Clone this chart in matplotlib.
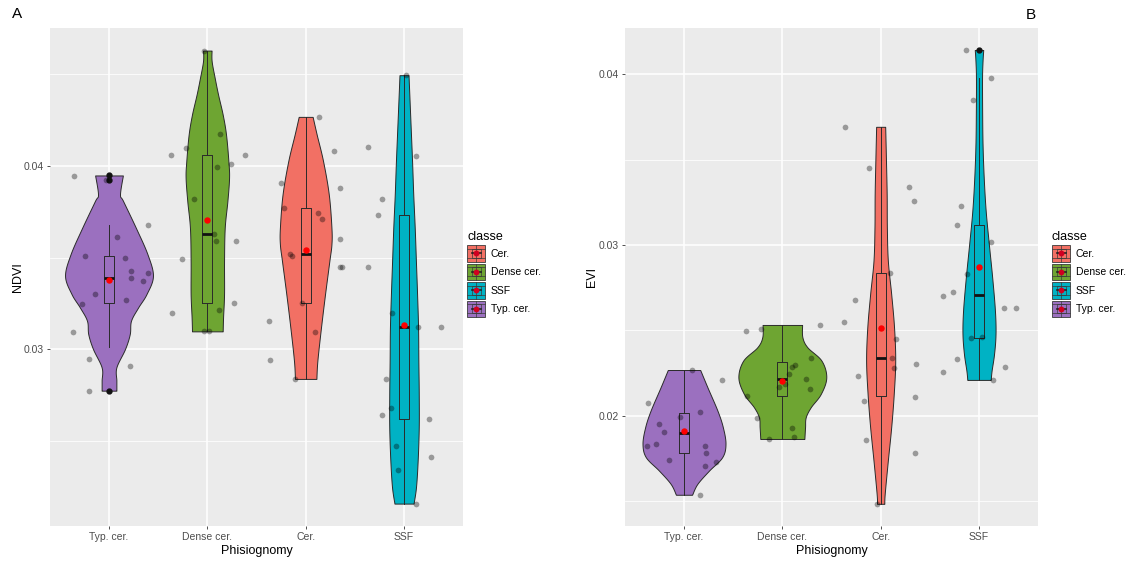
import numpy as np
import matplotlib
matplotlib.use("Agg")
import matplotlib.pyplot as plt
from matplotlib.patches import Rectangle, Patch
from matplotlib.lines import Line2D
from matplotlib.legend_handler import HandlerBase

plt.rcParams['font.family'] = ['Liberation Sans', 'DejaVu Sans']

# ---------------- data ----------------
categories = ["Typ. cer.", "Dense cer.", "Cer.", "SSF"]
legend_order = ["Cer.", "Dense cer.", "SSF", "Typ. cer."]
colors = {"Cer.": "#F27064", "Dense cer.": "#6EA532", "SSF": "#00B2C4", "Typ. cer.": "#9B70BF"}

# --- NDVI: violin outline (value, half-width in category units) ---
ndvi_violin_typ_v = [0.03947, 0.03844, 0.03808, 0.03663, 0.03518, 0.03400, 0.03301, 0.03228, 0.03156, 0.03083, 0.03002, 0.02902, 0.02830, 0.02775]
ndvi_violin_typ_w = [0.141, 0.112, 0.143, 0.272, 0.391, 0.447, 0.381, 0.296, 0.224, 0.211, 0.163, 0.075, 0.075, 0.075]
ndvi_violin_dense_v = [0.04627, 0.04569, 0.04478, 0.04388, 0.04279, 0.04170, 0.04025, 0.03935, 0.03808, 0.03663, 0.03482, 0.03301, 0.03174, 0.03098]
ndvi_violin_dense_w = [0.043, 0.044, 0.075, 0.109, 0.156, 0.190, 0.214, 0.221, 0.204, 0.177, 0.170, 0.170, 0.160, 0.156]
ndvi_violin_cer_v = [0.04266, 0.04170, 0.04025, 0.03844, 0.03663, 0.03572, 0.03482, 0.03301, 0.03120, 0.02938, 0.02839]
ndvi_violin_cer_w = [0.071, 0.112, 0.177, 0.235, 0.262, 0.262, 0.241, 0.197, 0.156, 0.119, 0.109]
ndvi_violin_ssf_v = [0.04493, 0.04388, 0.04207, 0.04025, 0.03844, 0.03663, 0.03482, 0.03301, 0.03120, 0.02938, 0.02757, 0.02576, 0.02395, 0.02250, 0.02160]
ndvi_violin_ssf_w = [0.046, 0.054, 0.068, 0.082, 0.094, 0.109, 0.121, 0.133, 0.143, 0.146, 0.150, 0.150, 0.139, 0.122, 0.097]

# --- NDVI box statistics: whislo, q1, median, q3, whishi, mean ---
ndvi_box_typ = [0.03011, 0.03250, 0.03388, 0.03507, 0.03676, 0.03379]
ndvi_box_dense = [0.03098, 0.03254, 0.03630, 0.04058, 0.04627, 0.03705]
ndvi_box_cer = [0.02839, 0.03250, 0.03518, 0.03768, 0.04266, 0.03540]
ndvi_box_ssf = [0.02160, 0.02621, 0.03123, 0.03730, 0.04493, 0.03134]
ndvi_outliers_typ = [0.03947, 0.03922, 0.02775]

# --- NDVI jittered observations (value, horizontal jitter) ---
ndvi_pts_typ_y = [0.03944, 0.03922, 0.03614, 0.03678, 0.03507, 0.03496, 0.03426, 0.03415, 0.03386, 0.03370, 0.03299, 0.03246, 0.03268, 0.03092, 0.02947, 0.02907, 0.02775]
ndvi_pts_typ_dx = [-0.357, -0.031, 0.082, 0.395, -0.245, 0.163, 0.224, 0.395, 0.221, 0.342, -0.146, -0.276, 0.170, -0.371, -0.204, 0.214, -0.201]
ndvi_pts_dense_y = [0.04627, 0.04174, 0.04098, 0.04060, 0.04058, 0.04011, 0.03993, 0.03817, 0.03630, 0.03589, 0.03589, 0.03491, 0.03254, 0.03212, 0.03197, 0.03098, 0.03098]
ndvi_pts_dense_dx = [-0.031, 0.129, -0.221, -0.371, 0.381, 0.241, 0.095, -0.139, 0.071, 0.085, 0.293, -0.258, 0.276, 0.116, -0.357, -0.031, 0.017]
ndvi_pts_cer_y = [0.04266, 0.04080, 0.03904, 0.03880, 0.03768, 0.03743, 0.03708, 0.03603, 0.03518, 0.03511, 0.03451, 0.03451, 0.03250, 0.03152, 0.03092, 0.02944, 0.02839]
ndvi_pts_cer_dx = [0.136, 0.289, -0.252, 0.350, -0.221, 0.122, 0.163, 0.350, -0.163, -0.143, 0.350, 0.367, -0.034, -0.371, 0.095, -0.364, -0.112]
ndvi_pts_ssf_y = [0.04493, 0.04103, 0.04053, 0.03817, 0.03730, 0.03451, 0.03196, 0.03123, 0.03123, 0.02839, 0.02681, 0.02640, 0.02621, 0.02475, 0.02415, 0.02341, 0.02160]
ndvi_pts_ssf_dx = [0.024, -0.371, 0.122, -0.221, -0.269, -0.371, -0.119, 0.143, 0.378, -0.187, -0.133, -0.221, 0.255, -0.078, 0.272, -0.058, 0.122]

# --- EVI: violin outline ---
evi_violin_typ_v = [0.02267, 0.02166, 0.02029, 0.01932, 0.01834, 0.01756, 0.01678, 0.01600, 0.01536]
evi_violin_typ_w = [0.165, 0.238, 0.340, 0.395, 0.422, 0.388, 0.255, 0.136, 0.082]
evi_violin_dense_v = [0.02531, 0.02459, 0.02400, 0.02322, 0.02224, 0.02127, 0.02049, 0.01990, 0.01932, 0.01863]
evi_violin_dense_w = [0.201, 0.204, 0.255, 0.398, 0.447, 0.391, 0.289, 0.238, 0.231, 0.224]
evi_violin_cer_v = [0.03692, 0.03493, 0.03298, 0.03102, 0.02907, 0.02712, 0.02517, 0.02322, 0.02127, 0.01932, 0.01737, 0.01541, 0.01483]
evi_violin_cer_w = [0.046, 0.054, 0.061, 0.063, 0.073, 0.107, 0.136, 0.148, 0.133, 0.107, 0.073, 0.041, 0.037]
evi_violin_ssf_v = [0.04142, 0.04078, 0.03980, 0.03785, 0.03590, 0.03395, 0.03200, 0.03005, 0.02810, 0.02615, 0.02478, 0.02361, 0.02263, 0.02209]
evi_violin_ssf_w = [0.043, 0.036, 0.031, 0.032, 0.036, 0.048, 0.068, 0.100, 0.134, 0.162, 0.168, 0.153, 0.128, 0.119]

# --- EVI box statistics ---
evi_box_typ = [0.01536, 0.01780, 0.01899, 0.02016, 0.02267, 0.01912]
evi_box_dense = [0.01863, 0.02113, 0.02215, 0.02312, 0.02531, 0.02205]
evi_box_cer = [0.01483, 0.02113, 0.02336, 0.02833, 0.03692, 0.02511]
evi_box_ssf = [0.02209, 0.02453, 0.02706, 0.03116, 0.03977, 0.02872]
evi_outliers_ssf = [0.04142]

# --- EVI jittered observations ---
evi_pts_typ_y = [0.02267, 0.02211, 0.02072, 0.02020, 0.01990, 0.01951, 0.01902, 0.01834, 0.01819, 0.01824, 0.01780, 0.01737, 0.01727, 0.01705, 0.01536]
evi_pts_typ_dx = [0.078, 0.391, -0.364, 0.160, -0.041, -0.252, -0.204, -0.283, -0.374, 0.214, 0.221, -0.153, 0.330, 0.214, 0.167]
evi_pts_dense_y = [0.02494, 0.02505, 0.02531, 0.02336, 0.02297, 0.02283, 0.02244, 0.02215, 0.02185, 0.02166, 0.02156, 0.02113, 0.01986, 0.01928, 0.01863, 0.01877]
evi_pts_dense_dx = [-0.367, -0.214, 0.381, 0.296, 0.133, 0.099, 0.068, 0.245, 0.024, -0.034, 0.279, -0.357, -0.255, 0.099, -0.136, 0.116]
evi_pts_cer_y = [0.03692, 0.03450, 0.03340, 0.03255, 0.02833, 0.02679, 0.02550, 0.02451, 0.02336, 0.02277, 0.02302, 0.02234, 0.02084, 0.02111, 0.01859, 0.01783, 0.01483]
evi_pts_cer_dx = [-0.367, -0.119, 0.286, 0.340, 0.092, -0.259, -0.377, 0.160, 0.119, 0.136, 0.364, -0.231, -0.173, 0.347, -0.146, 0.347, -0.041]
evi_pts_ssf_y = [0.04142, 0.03977, 0.03850, 0.03229, 0.03116, 0.03015, 0.02829, 0.02722, 0.02702, 0.02628, 0.02632, 0.02453, 0.02462, 0.02332, 0.02283, 0.02254, 0.02209]
evi_pts_ssf_dx = [-0.129, 0.119, -0.058, -0.184, -0.221, 0.122, -0.126, -0.269, -0.371, 0.252, 0.374, -0.082, 0.034, -0.221, 0.269, -0.371, 0.146]

panels = {
    "NDVI": {
        "violin": [(ndvi_violin_typ_v, ndvi_violin_typ_w), (ndvi_violin_dense_v, ndvi_violin_dense_w),
                   (ndvi_violin_cer_v, ndvi_violin_cer_w), (ndvi_violin_ssf_v, ndvi_violin_ssf_w)],
        "box": [ndvi_box_typ, ndvi_box_dense, ndvi_box_cer, ndvi_box_ssf],
        "outliers": [ndvi_outliers_typ, [], [], []],
        "pts": [(ndvi_pts_typ_y, ndvi_pts_typ_dx), (ndvi_pts_dense_y, ndvi_pts_dense_dx),
                (ndvi_pts_cer_y, ndvi_pts_cer_dx), (ndvi_pts_ssf_y, ndvi_pts_ssf_dx)],
        "ylim": (0.02038, 0.04750), "major": [0.03, 0.04], "minor": [0.025, 0.035, 0.045],
    },
    "EVI": {
        "violin": [(evi_violin_typ_v, evi_violin_typ_w), (evi_violin_dense_v, evi_violin_dense_w),
                   (evi_violin_cer_v, evi_violin_cer_w), (evi_violin_ssf_v, evi_violin_ssf_w)],
        "box": [evi_box_typ, evi_box_dense, evi_box_cer, evi_box_ssf],
        "outliers": [[], [], [], evi_outliers_ssf],
        "pts": [(evi_pts_typ_y, evi_pts_typ_dx), (evi_pts_dense_y, evi_pts_dense_dx),
                (evi_pts_cer_y, evi_pts_cer_dx), (evi_pts_ssf_y, evi_pts_ssf_dx)],
        "ylim": (0.01353, 0.04271), "major": [0.02, 0.03, 0.04], "minor": [0.015, 0.025, 0.035],
    },
}


def smooth_profile(v, w, n=14):
    pts = np.column_stack([v, w]).astype(float)
    P = np.vstack([pts[0], pts, pts[-1]])
    out = []
    t = np.linspace(0, 1, n, endpoint=False)[:, None]
    for i in range(1, len(P) - 2):
        p0, p1, p2, p3 = P[i - 1], P[i], P[i + 1], P[i + 2]
        seg = 0.5 * ((2 * p1) + (-p0 + p2) * t + (2 * p0 - 5 * p1 + 4 * p2 - p3) * t ** 2
                     + (-p0 + 3 * p1 - 3 * p2 + p3) * t ** 3)
        out.append(seg)
    out.append(pts[-1:])
    s = np.vstack(out)
    return s[:, 0], np.clip(s[:, 1], 0, None)


class ViolinKey(HandlerBase):
    def create_artists(self, legend, orig_handle, xdescent, ydescent, width, height, fontsize, trans):
        x0, y0 = -xdescent, -ydescent
        col = orig_handle.get_facecolor()
        arts = [Rectangle((x0, y0), width, height, facecolor=col, edgecolor="#3a3a3a", lw=0.6, transform=trans)]
        for fy in (0.22, 0.78):
            arts.append(Line2D([x0, x0 + width], [y0 + height * fy] * 2, color="#3a3a3a", lw=0.5, transform=trans))
        bw = width * 0.5
        arts.append(Rectangle((x0 + (width - bw) / 2, y0 + height * 0.22), bw, height * 0.56,
                              facecolor="none", edgecolor="#3a3a3a", lw=0.5, transform=trans))
        arts.append(Line2D([x0 + width / 2] * 2, [y0, y0 + height], color="#3a3a3a", lw=0.5, transform=trans))
        arts.append(Line2D([x0 + width * 0.25, x0 + width * 0.75], [y0 + height / 2] * 2, color="#222222", lw=1.2, transform=trans))
        arts.append(Line2D([x0 + width / 2], [y0 + height / 2], marker="o", ms=3.2, color="#D00020", lw=0, transform=trans))
        return arts


fig = plt.figure(figsize=(11.36, 5.61), dpi=100)
fig.patch.set_facecolor("white")
ax_pos = {"NDVI": [50 / 1136, 1 - 526 / 561, 413 / 1136, 498 / 561],
          "EVI": [625 / 1136, 1 - 526 / 561, 413 / 1136, 498 / 561]}
ylabel_x = {"NDVI": 18 / 1136, "EVI": 592 / 1136}
legend_x = {"NDVI": 467 / 1136, "EVI": 1052 / 1136}

positions = np.arange(len(categories))
for name, d in panels.items():
    ax = fig.add_axes(ax_pos[name])
    ax.set_facecolor("#EBEBEB")
    for s in ax.spines.values():
        s.set_visible(False)
    ax.set_xlim(-0.6, 3.6)
    ax.set_ylim(*d["ylim"])
    ax.set_xticks(positions)
    ax.set_xticklabels(categories)
    ax.set_yticks(d["major"])
    ax.set_yticklabels([f"{v:.2f}" for v in d["major"]])
    ax.set_yticks(d["minor"], minor=True)
    ax.tick_params(axis="both", which="major", length=2.5, width=0.6, color="#333333",
                   labelsize=7.5, labelcolor="#4D4D4D", pad=2)
    ax.tick_params(axis="y", which="minor", length=0)
    ax.grid(True, which="major", color="white", lw=1.1)
    ax.grid(True, which="minor", axis="y", color="white", lw=0.55)
    ax.set_axisbelow(True)

    for i, cat in enumerate(categories):
        v, w = d["violin"][i]
        sv, sw = smooth_profile(v, w)
        ax.fill_betweenx(sv, positions[i] - sw, positions[i] + sw, facecolor=colors[cat],
                         edgecolor="#2a2a2a", lw=0.7, zorder=2)

    stats = []
    for i, b in enumerate(d["box"]):
        stats.append(dict(whislo=b[0], q1=b[1], med=b[2], q3=b[3], whishi=b[4], mean=b[5],
                          fliers=d["outliers"][i]))
    ax.bxp(stats, positions=positions, widths=0.1, showmeans=True, showcaps=False, manage_ticks=False,
           boxprops=dict(color="#2a2a2a", lw=0.7, zorder=3),
           whiskerprops=dict(color="#2a2a2a", lw=0.7, zorder=3),
           medianprops=dict(color="#111111", lw=2.0, zorder=3),
           flierprops=dict(marker="o", markerfacecolor="#111111", markeredgecolor="#111111", ms=3.5, zorder=3),
           meanprops=dict(marker="o", markerfacecolor="red", markeredgecolor="red", ms=3.6, zorder=6))

    for i in range(len(categories)):
        py, pdx = d["pts"][i]
        ax.scatter(positions[i] + np.array(pdx), py, s=17, color="black", alpha=0.35, lw=0, zorder=5)

    ax.set_xlabel("Phisiognomy", fontsize=9, labelpad=2)
    fig.text(ylabel_x[name], ax_pos[name][1] + ax_pos[name][3] / 2, name, rotation=90,
             ha="center", va="center", fontsize=9)

    handles = [Patch(facecolor=colors[c], label=c) for c in legend_order]
    leg = ax.legend(handles=handles, title="classe", loc="upper left",
                    bbox_to_anchor=(legend_x[name], 1 - 231 / 561), bbox_transform=fig.transFigure,
                    frameon=False, fontsize=7.5, title_fontsize=9, handler_map={Patch: ViolinKey()},
                    handlelength=1.75, handleheight=2.05, labelspacing=0.2, handletextpad=0.55,
                    borderaxespad=0, borderpad=0, alignment="left")

fig.text(12 / 1136, 1 - 14 / 561, "A", fontsize=11, ha="left", va="center")
fig.text(1026 / 1136, 1 - 15 / 561, "B", fontsize=11, ha="left", va="center")

fig.savefig("out.png", dpi=100)
